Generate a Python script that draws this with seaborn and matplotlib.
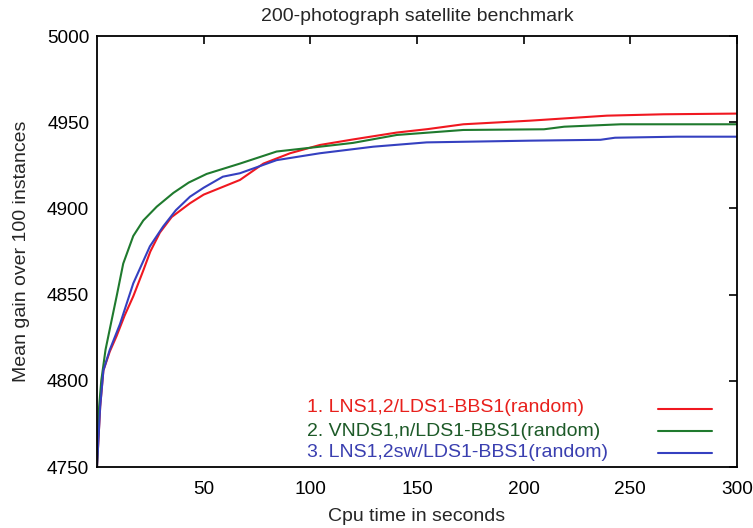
import numpy as np
import pandas as pd
import matplotlib
matplotlib.use("Agg")
import matplotlib.pyplot as plt
import seaborn as sns

sns.set_style("white")
plt.rcParams['font.family'] = ['Liberation Sans', 'DejaVu Sans']

title = "200-photograph satellite benchmark"
xlabel = "Cpu time in seconds"
ylabel = "Mean gain over 100 instances"

labels = ["1. LNS1,2/LDS1-BBS1(random)",
          "2. VNDS1,n/LDS1-BBS1(random)",
          "3. LNS1,2sw/LDS1-BBS1(random)"]
colors = ["#f01820", "#1f7a2e", "#3540c0"]
text_colors = ["#e8201c", "#1d5a28", "#3a3fb0"]

red_x = [0, 1.5, 3, 6, 9.2, 13, 17, 21.7, 25, 29.5, 35, 43.6, 50, 56, 67, 78, 90.5,
         104.5, 120, 140.5, 155, 171.7, 203, 239, 265.5, 300]
red_y = [4750, 4785, 4806, 4817, 4826, 4838, 4849, 4864, 4875, 4886, 4895, 4903, 4908,
         4911, 4916.5, 4926, 4932, 4936.8, 4940, 4944, 4946, 4948.8, 4950.9, 4953.8,
         4954.6, 4955]

green_x = [0, 1, 2, 4, 6, 9.2, 12.3, 17, 21.7, 28, 35.8, 43, 51.4, 67, 84.2, 104.5,
           120, 140.5, 171.7, 209.5, 219, 245.6, 300]
green_y = [4750, 4785, 4800, 4818, 4830, 4849, 4868, 4884, 4893, 4901, 4909, 4915,
           4920, 4926, 4933, 4935.8, 4938, 4942.6, 4945.5, 4945.9, 4947.4, 4948.8, 4948.8]

blue_x = [0, 1.5, 3, 6, 10.8, 17, 24.8, 31, 37, 43.6, 50, 59, 67, 84.2, 104.5, 129.5,
          154.5, 203, 236, 242.8, 272, 300]
blue_y = [4750, 4785, 4806, 4818, 4833, 4856.5, 4878, 4889.5, 4899, 4906.8, 4912,
          4918.4, 4920.4, 4928, 4932, 4935.8, 4938.3, 4939.3, 4939.8, 4941, 4941.6, 4941.6]

xticks = [50, 100, 150, 200, 250, 300]
yticks = [4750, 4800, 4850, 4900, 4950, 5000]

series = [(red_x, red_y), (green_x, green_y), (blue_x, blue_y)]
frames = []
for lab, (xs, ys) in zip(labels, series):
    frames.append(pd.DataFrame({"time": xs, "gain": ys, "method": lab}))
df = pd.concat(frames, ignore_index=True)

fig = plt.figure(figsize=(7.53, 5.28), dpi=100)
ax = fig.add_axes([0.1288, 0.1155, 0.85, 0.8163])

sns.lineplot(data=df, x="time", y="gain", hue="method", hue_order=labels,
             palette=dict(zip(labels, colors)), estimator=None, sort=False,
             linewidth=1.5, ax=ax, legend=False)

ax.set_xlim(0, 300)
ax.set_ylim(4750, 5000)
ax.set_xticks(xticks)
ax.set_yticks(yticks)
ax.tick_params(direction="in", length=6, width=1.2, top=True, right=True,
               labelsize=13.7, colors="black")
ax.tick_params(axis="x", pad=10)
ax.tick_params(axis="y", pad=5.5)
for s in ax.spines.values():
    s.set_linewidth(1.3)
    s.set_color("black")

ax.set_title(title, fontsize=14, pad=11)
ax.set_xlabel(xlabel, fontsize=14, labelpad=7)
ax.set_ylabel(ylabel, fontsize=14, labelpad=12)

# key: left-aligned coloured labels with sample lines at the right (gnuplot style)
row_y = [0.138, 0.0835, 0.0336]
for lab, c, yy in zip(labels, text_colors, row_y):
    ax.text(0.3277, yy, lab, transform=ax.transAxes, ha="left", va="center",
            fontsize=14, color=c)

handles = ax.get_lines()[:3]
leg = ax.legend(handles, ["", "", ""], loc="center", bbox_to_anchor=(0.9185, 0.0795),
                frameon=False, fontsize=14, handlelength=2.77, handletextpad=0.0,
                labelspacing=0.23, borderpad=0, borderaxespad=0)

fig.savefig("out.png", dpi=100)
